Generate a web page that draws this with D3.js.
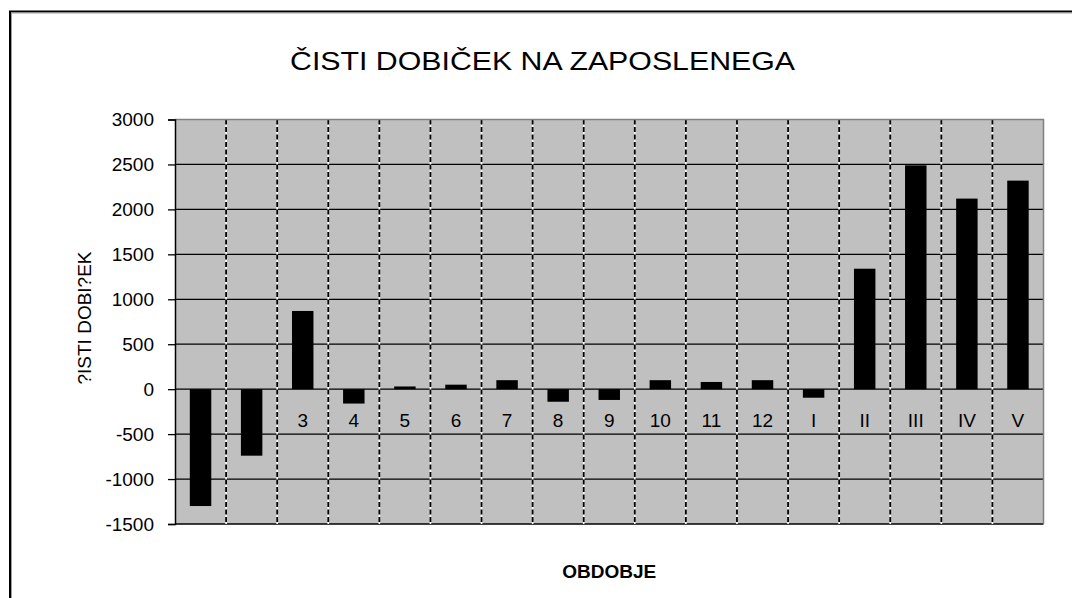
<!DOCTYPE html>
<html>
<head>
<meta charset="utf-8">
<script src="https://cdn.jsdelivr.net/npm/d3@7"></script>
<style>
	body { margin: 0; background: white; }
	svg { display: block; font-family: Arial, "Liberation Sans", sans-serif; }
</style>
</head>
<body>
<div id="chart"></div>
<script>
const categories = ["1", "2", "3", "4", "5", "6", "7", "8", "9", "10", "11", "12", "I", "II", "III", "IV", "V"]
const values = [-1300, -740, 870, -160, 30, 50, 100, -140, -120, 100, 80, 100, -95, 1340, 2490, 2120, 2320]
const yTicks = [-1500, -1000, -500, 0, 500, 1000, 1500, 2000, 2500, 3000]

const titleText = "ČISTI DOBIČEK NA ZAPOSLENEGA"
const yTitleText = "?ISTI DOBI?EK"
const xTitleText = "OBDOBJE"

const width = 1072, height = 598
const plot = { left: 175, right: 1043.5, top: 119.5, bottom: 524 }

const svg = d3.select("#chart")
	.append("svg")
	.attr("width", width)
	.attr("height", height)

// outer chart border (runs off the right and bottom edge)
svg.append("rect")
	.attr("x", 10).attr("y", 11.5)
	.attr("width", 1200).attr("height", 800)
	.attr("fill", "none")
	.attr("stroke", "#000")
	.attr("stroke-width", 2)
svg.append("rect")
	.attr("x", 11.5).attr("y", 13)
	.attr("width", 1200).attr("height", 800)
	.attr("fill", "none")
	.attr("stroke", "#a0a0a0")
	.attr("stroke-width", 1)

const x = d3.scaleBand()
	.domain(categories)
	.range([plot.left, plot.right])
	.padding(0)

const xBar = d3.scaleBand()
	.domain(categories)
	.range([plot.left, plot.right])
	.paddingInner(0.58)
	.paddingOuter(0.29)

const y = d3.scaleLinear()
	.domain([-1500, 3000])
	.range([plot.bottom, plot.top])

// plot background
svg.append("rect")
	.attr("x", plot.left).attr("y", plot.top)
	.attr("width", plot.right - plot.left)
	.attr("height", plot.bottom - plot.top)
	.attr("fill", "#c0c0c0")

// horizontal gridlines
svg.append("g")
	.selectAll("line")
	.data(yTicks.filter(d => d < 3000))
	.enter()
	.append("line")
	.attr("x1", plot.left).attr("x2", plot.right)
	.attr("y1", d => y(d)).attr("y2", d => y(d))
	.attr("stroke", "#000")
	.attr("stroke-width", 1.3)

// vertical dashed gridlines between categories
const dividers = categories.slice(1)
const vGrid = svg.append("g")
vGrid.selectAll("line.under")
	.data(dividers)
	.enter()
	.append("line")
	.attr("class", "under")
	.attr("x1", d => x(d)).attr("x2", d => x(d))
	.attr("y1", plot.top).attr("y2", plot.bottom)
	.attr("stroke", "#fff")
	.attr("stroke-width", 1.6)
vGrid.selectAll("line.dash")
	.data(dividers)
	.enter()
	.append("line")
	.attr("class", "dash")
	.attr("x1", d => x(d)).attr("x2", d => x(d))
	.attr("y1", plot.top).attr("y2", plot.bottom)
	.attr("stroke", "#000")
	.attr("stroke-width", 1.8)
	.attr("stroke-dasharray", "5,2.5")

// plot border (top / right)
svg.append("path")
	.attr("d", `M${plot.left},${plot.top}H${plot.right}V${plot.bottom}`)
	.attr("fill", "none")
	.attr("stroke", "#808080")
	.attr("stroke-width", 1.5)

// category labels sit just under the zero line
svg.append("g")
	.selectAll("text")
	.data(categories)
	.enter()
	.append("text")
	.attr("x", d => x(d) + x.bandwidth() / 2)
	.attr("y", y(0) + 38)
	.attr("text-anchor", "middle")
	.style("font-size", "19px")
	.attr("fill", "#000")
	.text(d => d)

// bars
svg.append("g")
	.selectAll("rect")
	.data(values)
	.enter()
	.append("rect")
	.attr("x", (d, i) => xBar(categories[i]))
	.attr("y", d => y(Math.max(0, d)))
	.attr("width", xBar.bandwidth())
	.attr("height", d => Math.abs(y(d) - y(0)))
	.attr("fill", "#000")

// y axis
const yAxis = svg.append("g")
	.attr("transform", `translate(${plot.left},0)`)
	.call(d3.axisLeft(y)
		.tickValues(yTicks)
		.tickFormat(d => String(d))
		.tickSize(7)
		.tickPadding(14))
yAxis.select(".domain")
	.attr("stroke", "#000")
	.attr("stroke-width", 1.5)
yAxis.selectAll(".tick line")
	.attr("stroke", "#000")
	.attr("stroke-width", 1.3)
yAxis.selectAll(".tick text")
	.style("font-size", "19px")
	.style("font-family", "Arial, 'Liberation Sans', sans-serif")
	.attr("fill", "#000")

// titles
svg.append("text")
	.attr("x", 290)
	.attr("y", 70)
	.attr("textLength", 505)
	.attr("lengthAdjust", "spacingAndGlyphs")
	.style("font-size", "25px")
	.attr("fill", "#000")
	.text(titleText)

svg.append("text")
	.attr("transform", "translate(91,318) rotate(-90)")
	.attr("text-anchor", "middle")
	.style("font-size", "19px")
	.attr("fill", "#000")
	.text(yTitleText)

svg.append("text")
	.attr("x", (plot.left + plot.right) / 2)
	.attr("y", 578)
	.attr("text-anchor", "middle")
	.style("font-size", "19px")
	.style("font-weight", "bold")
	.attr("fill", "#000")
	.text(xTitleText)
</script>
</body>
</html>
